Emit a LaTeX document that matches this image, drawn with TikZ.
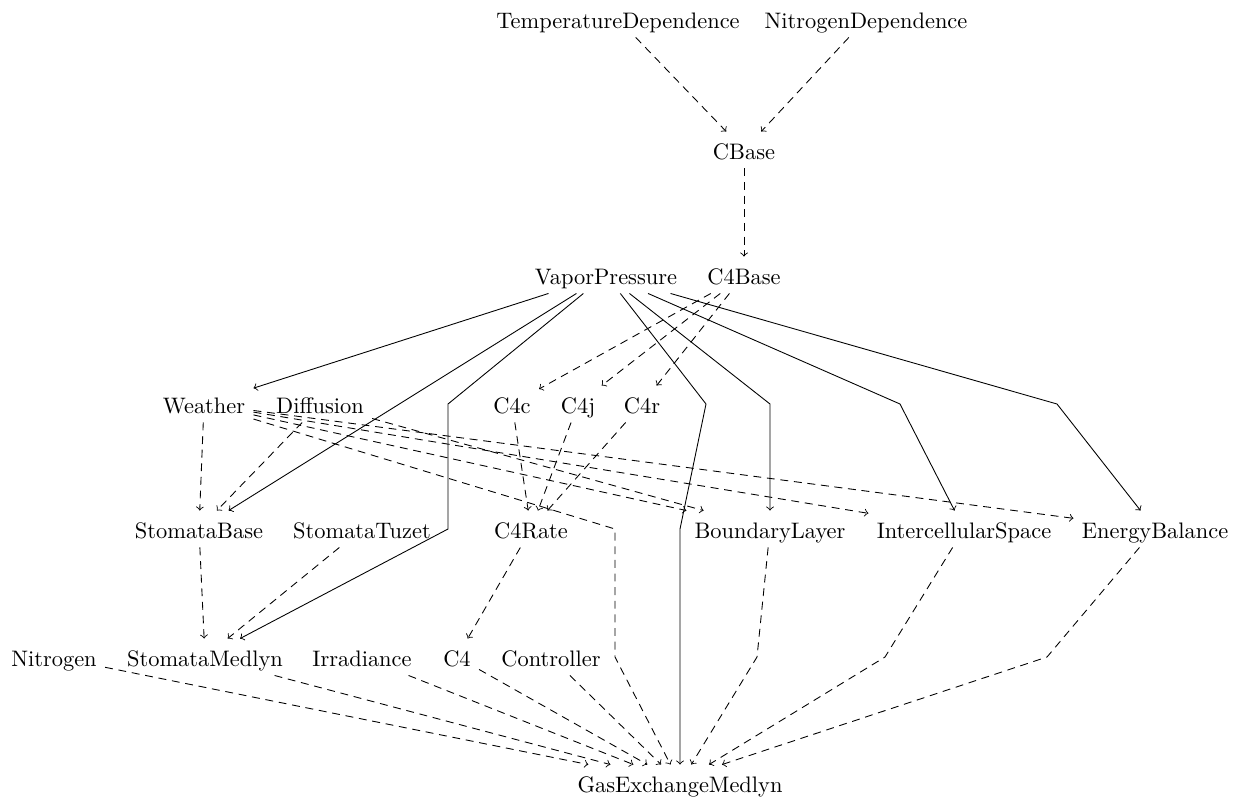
\documentclass[tikz,border=0pt]{standalone}
\usetikzlibrary{calc}
\begin{document}
\begin{tikzpicture}[x=0.455pt,y=-0.455pt,
  box/.style={inner xsep=3.6pt, inner ysep=0pt, text height=12.3pt, text depth=4.1pt, font=\fontsize{10.2}{12}\selectfont},
  dep/.style={->, dash pattern=on 3.6pt off 2.6pt},
  sol/.style={->}]
\useasboundingbox (0,0) rectangle (1237,796);
% nodes
\node[box] (td) at (618,19) {TemperatureDependence};
\node[box] (nd) at (866,19) {NitrogenDependence};
\node[box] (cb) at (744,150) {CBase};
\node[box] (vp) at (606,275) {VaporPressure};
\node[box] (c4b) at (744,275) {C4Base};
\node[box] (we) at (204,404) {Weather};
\node[box] (di) at (320,404) {Diffusion};
\node[box] (c4c) at (512,404) {C4c};
\node[box] (c4j) at (578,404) {C4j};
\node[box] (c4r) at (642,404) {C4r};
\node[box] (sb) at (199,529) {StomataBase};
\node[box] (st) at (362,529) {StomataTuzet};
\node[box] (c4rate) at (531,529) {C4Rate};
\node[box] (bl) at (770,529) {BoundaryLayer};
\node[box] (is) at (964,529) {IntercellularSpace};
\node[box] (eb) at (1155,529) {EnergyBalance};
\node[box] (ni) at (54,657) {Nitrogen};
\node[box] (sm) at (205,657) {StomataMedlyn};
\node[box] (ir) at (362,657) {Irradiance};
\node[box] (c4) at (457,657) {C4};
\node[box] (co) at (551,657) {Controller};
\node[box] (gem) at (680,783) {GasExchangeMedlyn};
% bend points
\coordinate (bw1) at (615,529);
\coordinate (bw2) at (615,657);
\coordinate (bbl) at (757,657);
\coordinate (bis) at (885,657);
\coordinate (beb) at (1047,657);
\coordinate (bsm1) at (448,404);
\coordinate (bsm2) at (448,529);
\coordinate (bg1) at (706,404);
\coordinate (bg2) at (680,529);
\coordinate (bb) at (770,404);
\coordinate (bi) at (900,404);
\coordinate (be) at (1057,404);
% dashed dependencies
\draw[dep] (td) -- (cb);
\draw[dep] (nd) -- (cb);
\draw[dep] (cb) -- (c4b);
\draw[dep] (c4b) -- (c4c);
\draw[dep] (c4b) -- (c4j);
\draw[dep] (c4b) -- (c4r);
\draw[dep] (c4c) -- (c4rate);
\draw[dep] (c4j) -- (c4rate);
\draw[dep] (c4r) -- (c4rate);
\draw[dep] (we) -- (sb);
\draw[dep] (di) -- (sb);
\draw[dep] (we) -- (bl);
\draw[dep] (di) -- (bl);
\draw[dep] (we) -- (is);
\draw[dep] (we) -- (eb);
\draw[dep] (we) -- (bw1) -- (bw2) -- (gem);
\draw[dep] (sb) -- (sm);
\draw[dep] (st) -- (sm);
\draw[dep] (c4rate) -- (c4);
\draw[dep] (ni) -- (gem);
\draw[dep] (sm) -- (gem);
\draw[dep] (ir) -- (gem);
\draw[dep] (c4) -- (gem);
\draw[dep] (co) -- (gem);
\draw[dep] (bl) -- (bbl) -- (gem);
\draw[dep] (is) -- (bis) -- ($(gem.north)+(29,0)$);
\draw[dep] (eb) -- (beb) -- ($(gem.north)+(42,0)$);
% solid dependencies
\draw[sol] (vp) -- (we);
\draw[sol] (vp) -- (sb);
\draw[sol] (vp) -- (bsm1) -- (bsm2) -- (sm);
\draw[sol] (vp) -- (bg1) -- (bg2) -- (gem);
\draw[sol] (vp) -- (bb) -- (bl);
\draw[sol] (vp) -- (bi) -- (is);
\draw[sol] (vp) -- (be) -- (eb);
\end{tikzpicture}
\end{document}
